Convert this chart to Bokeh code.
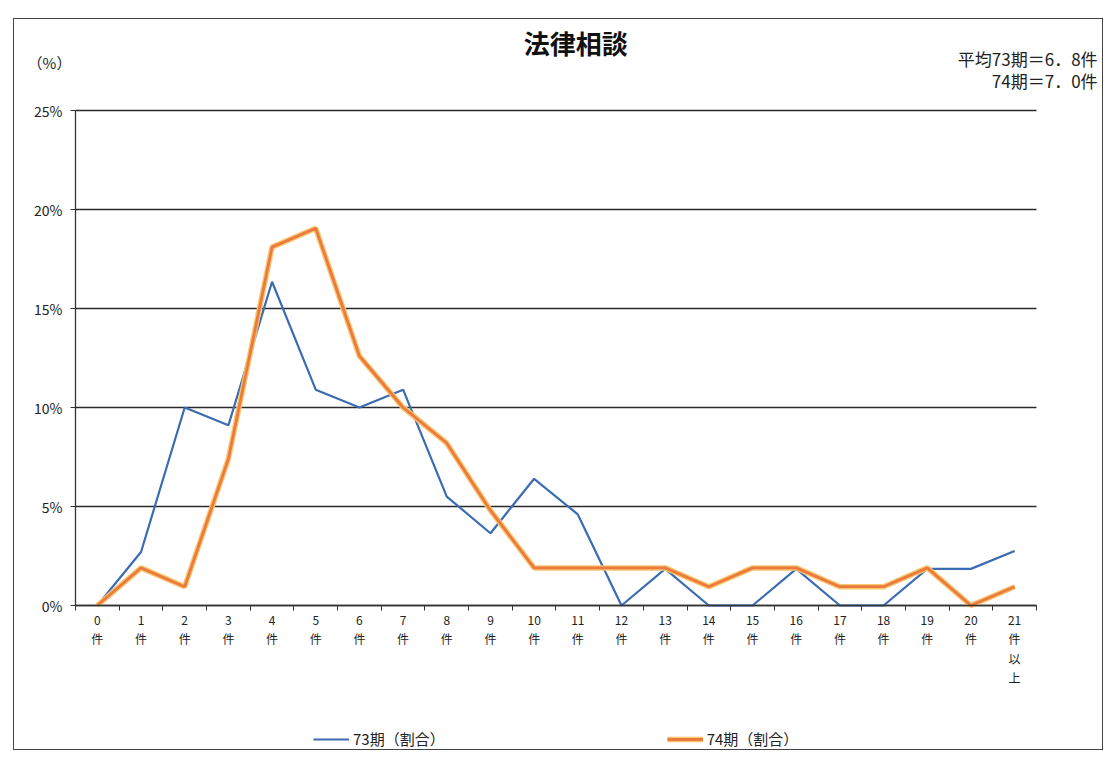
from bokeh.plotting import figure
from bokeh.models import Range1d, FixedTicker, Label, Legend, LegendItem, ColumnDataSource
from bokeh.embed import file_html
from bokeh.resources import INLINE

# ---- data ----
categories = list(range(22))
cat_labels = [f"{i}\n件" for i in range(21)] + ["21\n件\n以\n上"]
s73 = [0, 2.7, 10.0, 9.1, 16.35, 10.9, 10.0, 10.9, 5.5, 3.65, 6.4, 4.6,
       0, 1.85, 0, 0, 1.85, 0, 0, 1.85, 1.85, 2.75]
s74 = [0, 1.9, 0.95, 7.4, 18.1, 19.05, 12.6, 10.0, 8.2, 4.8, 1.9, 1.9,
       1.9, 1.9, 0.95, 1.9, 1.9, 0.95, 0.95, 1.9, 0, 0.95]
y_ticks = [0, 5, 10, 15, 20, 25]
y_tick_labels = [f"{t}%" for t in y_ticks]
series_names = ["73期（割合）", "74期（割合）"]
title_text = "法律相談"
note_lines = ["平均73期＝6．8件", "74期＝7．0件"]
y_unit = "（%）"

FONT = "Noto Sans CJK JP"

W, H = 1090, 732
x_lo = categories[0] - 0.5
x_hi = categories[-1] + 0.5
px_per_cat = 43.68
px_per_pct = 19.8
x_start = x_lo - 61 / px_per_cat
y_top = 586 / px_per_pct
p = figure(width=W, height=H, output_backend="svg", toolbar_location=None,
           title_location=None,
           x_range=Range1d(x_start, x_start + W / px_per_cat),
           y_range=Range1d(y_top - H / px_per_pct, y_top),
           min_border=0)
p.styles = {"border": "1px solid #444", "margin-left": "13px", "margin-top": "18px"}
p.outline_line_color = None
p.background_fill_color = "white"
p.border_fill_color = "white"
p.xgrid.visible = False
p.ygrid.visible = False

# axes (drawn at the chart's own origin)
xa = p.xaxis[0]
xa.fixed_location = 0
xa.bounds = (x_lo, x_hi)
xa.ticker = FixedTicker(ticks=categories,
                        minor_ticks=[c - 0.5 for c in categories] + [x_hi])
xa.major_label_overrides = {c: l for c, l in zip(categories, cat_labels)}
xa.major_tick_line_color = None
xa.major_tick_out = 0
xa.major_tick_in = 0
xa.minor_tick_out = 5
xa.minor_tick_in = 0
xa.minor_tick_line_color = "#333"
xa.axis_line_color = "#333"
xa.axis_line_width = 1.3
xa.major_label_standoff = 0
xa.major_label_text_font = FONT
xa.major_label_text_font_size = "12px"
xa.major_label_text_color = "#222"
xa.major_label_text_line_height = 1.15

ya = p.yaxis[0]
ya.fixed_location = x_lo
ya.bounds = (y_ticks[0], y_ticks[-1])
ya.ticker = FixedTicker(ticks=y_ticks, minor_ticks=[])
ya.major_label_overrides = {t: l for t, l in zip(y_ticks, y_tick_labels)}
ya.major_tick_out = 5
ya.major_tick_in = 0
ya.major_tick_line_color = "#333"
ya.axis_line_color = "#333"
ya.axis_line_width = 1.3
ya.major_label_standoff = 8
ya.major_label_text_font = FONT
ya.major_label_text_font_size = "14px"
ya.major_label_text_color = "#222"

# horizontal gridlines at the y ticks, spanning the category axis
p.segment(x0=[x_lo] * len(y_ticks), x1=[x_hi] * len(y_ticks), y0=y_ticks, y1=y_ticks,
          line_color="#2a2a2a", line_width=1.3, level="underlay")

src = ColumnDataSource(dict(x=categories, a=s73, b=s74))
r73 = p.line("x", "a", source=src, line_color="#3b6cb3", line_width=2.2)
g74 = p.line("x", "b", source=src, line_color="#f7c46a", line_width=5.5, line_alpha=0.95)
r74 = p.line("x", "b", source=src, line_color="#ec7a3c", line_width=2.8)

legend = Legend(items=[LegendItem(label=series_names[0], renderers=[r73]),
                       LegendItem(label=series_names[1], renderers=[g74, r74])],
                orientation="horizontal", location=(299, 2),
                spacing=222, padding=0, margin=0, glyph_width=36, glyph_height=20,
                label_height=20, label_standoff=4,
                label_text_font=FONT, label_text_font_size="15px",
                label_text_color="#222", background_fill_alpha=0,
                border_line_color=None)
p.add_layout(legend, "center")

# texts (data coordinates)
p.add_layout(Label(x=10.95, y=28.45, text=title_text, text_align="center",
                   text_baseline="middle", text_font=FONT, text_font_size="26px",
                   text_font_style="bold", text_color="#111"))
p.add_layout(Label(x=-1.095, y=27.42, text=y_unit, text_align="center",
                   text_baseline="middle", text_font=FONT, text_font_size="15px",
                   text_color="#222"))
p.add_layout(Label(x=22.9, y=27.63, text=note_lines[0], text_align="right",
                   text_baseline="middle", text_font=FONT, text_font_size="17px",
                   text_color="#222"))
p.add_layout(Label(x=22.9, y=26.52, text=note_lines[1], text_align="right",
                   text_baseline="middle", text_font=FONT, text_font_size="17px",
                   text_color="#222"))

open("out.html", "w").write(file_html(p, INLINE))
